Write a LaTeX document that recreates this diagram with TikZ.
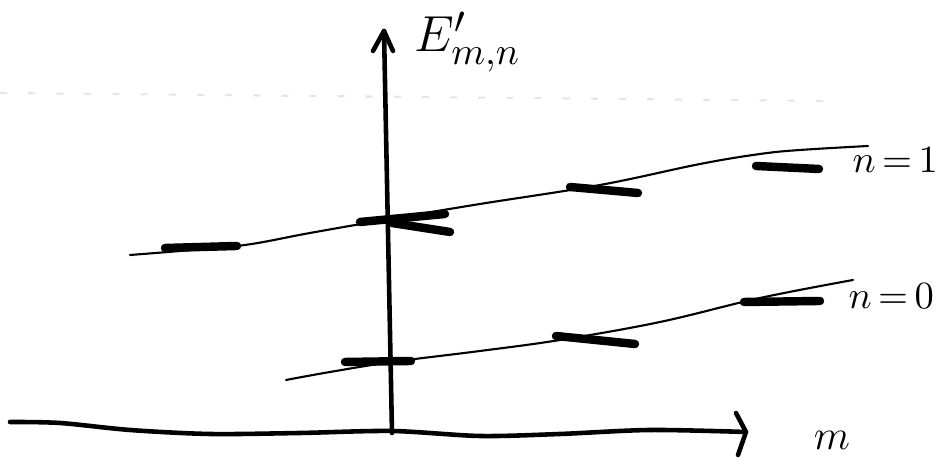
\documentclass[tikz,border=0pt]{standalone}
\usepackage{tikz}
\usetikzlibrary{positioning,calc,arrows.meta}

\tikzset{
	axisline/.style={line width=1.3pt,line cap=round,line join=round},
	bandline/.style={line width=0.6pt,line cap=round},
	levelbar/.style={line width=2.4pt,line cap=round},
	handlabel/.style={inner sep=0pt,font=\fontsize{11}{13}\selectfont}
}

\begin{document}
\begin{tikzpicture}[x=0.01cm,y=-0.01cm]
			
			\useasboundingbox (0,0) rectangle (948,465);
			
			% ---------------------------------------------------------
			% AXES
			% ---------------------------------------------------------
			
			\coordinate (origin) at (392,433);
			\coordinate (etop) at (384,31);
			\coordinate (mtip) at (746,432);
			
			\draw[axisline] (origin) -- (etop);
			\draw[axisline] ($(etop)+(-11,20)$) -- (etop) -- ($(etop)+(9,20)$);
			
			\draw[axisline] plot[smooth,tension=0.5] coordinates
			{(10,422) (60,423) (130,430) (210,434) (300,433) (392,431)
				(480,436) (560,434) (650,430) (746,432)};
			\draw[axisline] ($(mtip)+(-10,-19)$) -- (mtip) -- ($(mtip)+(-8,23)$);
			
			% faint scanner line
			\draw[gray!20,line width=0.6pt,dash pattern=on 2pt off 6pt]
			(0,93) -- (830,101);
			
			% ---------------------------------------------------------
			% LABELS
			% ---------------------------------------------------------
			
			\node[handlabel,font=\fontsize{15}{18}\selectfont,anchor=west]
			(elabel) at (414,42) {$E'_{m,n}$};
			
			\node[handlabel,font=\fontsize{10.5}{13}\selectfont,anchor=west]
			(labelone) at (852,160) {$n\,{=}\,1$};
			
			\node[handlabel,anchor=west] (labelzero) at (848,296) {$n\,{=}\,0$};
			
			\node[handlabel,font=\fontsize{13}{15}\selectfont]
			(mlabel) at (832,440) {$m$};
			
			% ---------------------------------------------------------
			% BAND n = 1
			% ---------------------------------------------------------
			
			\draw[bandline] plot[smooth,tension=0.6] coordinates
			{(130,255) (180,251) (245,245) (310,233) (390,219)
				(480,204) (600,185) (700,164) (760,154) (800,150) (868,146)};
			
			\draw[levelbar] (165,248) -- (237,246);
			\draw[levelbar] (360,222) -- (445,214);
			\draw[levelbar] (392,223) -- (450,232);
			\draw[levelbar] (570,187) -- (638,193);
			\draw[levelbar] (756,166) -- (819,169);
			
			% ---------------------------------------------------------
			% BAND n = 0
			% ---------------------------------------------------------
			
			\draw[bandline] plot[smooth,tension=0.6] coordinates
			{(286,380) (330,372) (392,362) (480,351) (560,340)
				(660,322) (760,298) (853,280)};
			
			\draw[levelbar] (345,362) -- (411,361);
			\draw[levelbar] (556,336) -- (635,344);
			\draw[levelbar] (744,302) -- (820,301);
			
		\end{tikzpicture}
\end{document}
